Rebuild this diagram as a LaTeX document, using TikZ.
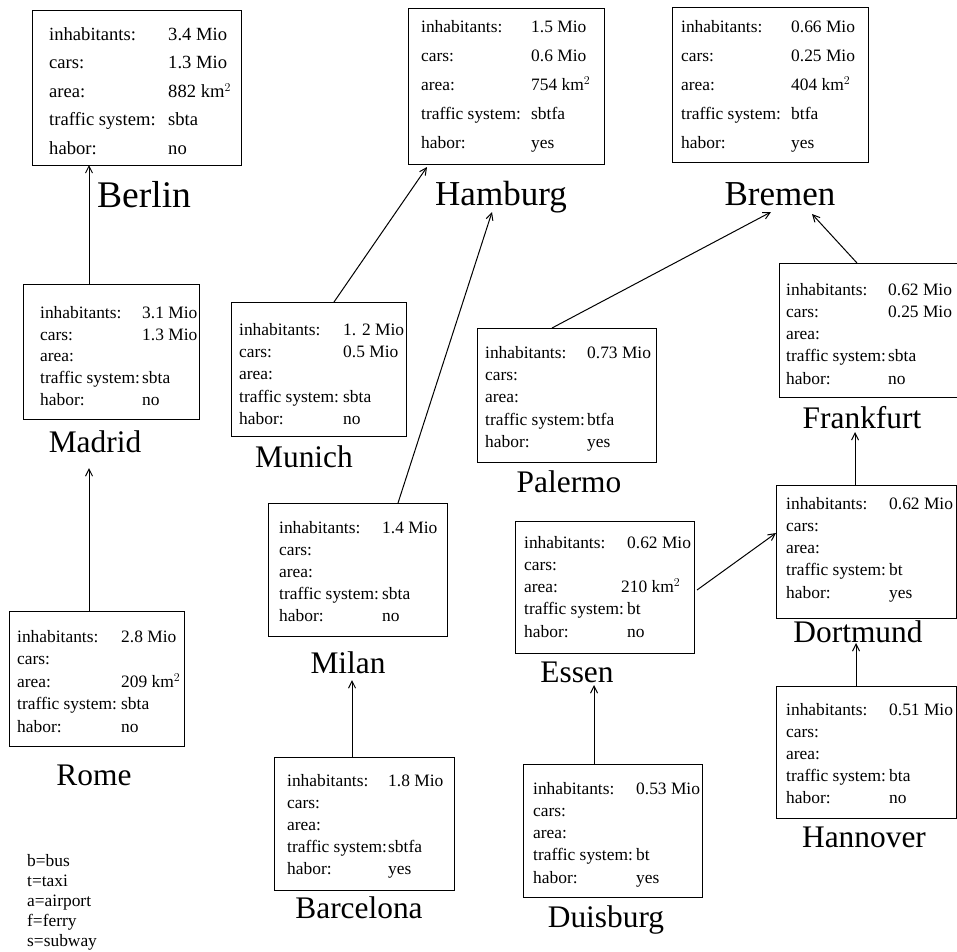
\documentclass[tikz,border=0pt]{standalone}
\usepackage{fontspec}
\setmainfont{Liberation Serif}
\usepackage{tikz}
\usetikzlibrary{arrows.meta}

\tikzset{
  citybox/.style={draw, line width=1pt, anchor=north west, inner sep=0pt, outer sep=0pt},
  rowtext/.style={anchor=mid west, inner sep=0pt, font=\fontsize{17.4}{20}\selectfont},
  cityname/.style={anchor=base, inner sep=0pt, font=\fontsize{31.4}{36}\selectfont},
  bigname/.style={cityname, font=\fontsize{35}{40}\selectfont},
  link/.style={->, line width=1pt},
}

% rows of one box: name, label x, value x, first y, line step, label/value list
\newcommand{\cityrows}[6]{%
  \foreach \lab/\val [count=\i from 0] in {#6} {
    \node[rowtext, yshift=-4pt] (#1-l\i) at (#2,{#4+#5*\i}) {\lab};
    \node[rowtext, yshift=-4pt] (#1-v\i) at (#3,{#4+#5*\i}) {\val};
  }}

\begin{document}
\begin{tikzpicture}[x=1pt,y=-1pt,>={Straight Barb[length=7pt,width=7pt]}]
  \useasboundingbox (0,0) rectangle (957,951);
  \clip (0,0) rectangle (957,951);

  % top row
  \node[citybox, minimum width=209pt, minimum height=155pt] (berlin) at (32,10) {};
  \begin{scope}[rowtext/.append style={font=\fontsize{18.6}{22}\selectfont}]
    \cityrows{berlin}{49}{168}{34}{28.5}{inhabitants:/3.4 Mio, cars:/1.3 Mio,
      area:/882 km$^2$, traffic system:/sbta, habor:/no}
  \end{scope}
  \node[bigname, font=\fontsize{37.6}{42}\selectfont] (berlin-name) at (144,207) {Berlin};

  \node[citybox, minimum width=196pt, minimum height=156pt] (hamburg) at (408,8) {};
  \cityrows{hamburg}{421}{531}{26}{29}{inhabitants:/1.5 Mio, cars:/0.6 Mio,
    area:/754 km$^2$, traffic system:/sbtfa, habor:/yes}
  \node[bigname] (hamburg-name) at (501,205) {Hamburg};

  \node[citybox, minimum width=196pt, minimum height=155pt] (bremen) at (672,7) {};
  \cityrows{bremen}{681}{791}{26}{29}{inhabitants:/0.66 Mio, cars:/0.25 Mio,
    area:/404 km$^2$, traffic system:/btfa, habor:/yes}
  \node[bigname] (bremen-name) at (780,205) {Bremen};

  % middle
  \node[citybox, minimum width=176pt, minimum height=135pt] (madrid) at (23,284) {};
  \cityrows{madrid}{40}{142}{312}{21.8}{inhabitants:/3.1 Mio, cars:/1.3 Mio,
    area:/{}, traffic system:/sbta, habor:/no}
  \node[cityname] (madrid-name) at (95,452) {Madrid};

  \node[citybox, minimum width=175pt, minimum height=134pt] (munich) at (231,302) {};
  \cityrows{munich}{239}{343}{329}{22.3}{inhabitants:/1. 2 Mio, cars:/0.5 Mio,
    area:/{}, traffic system:/sbta, habor:/no}
  \node[cityname] (munich-name) at (304,467) {Munich};

  \node[citybox, minimum width=179pt, minimum height=134pt] (palermo) at (477,328) {};
  \cityrows{palermo}{485}{587}{352}{22.3}{inhabitants:/0.73 Mio, cars:/{},
    area:/{}, traffic system:/btfa, habor:/yes}
  \node[cityname] (palermo-name) at (569,492) {Palermo};

  \node[citybox, minimum width=180pt, minimum height=134pt] (frankfurt) at (779,263) {};
  \cityrows{frankfurt}{786}{888}{289}{22.2}{inhabitants:/0.62 Mio, cars:/0.25 Mio,
    area:/{}, traffic system:/sbta, habor:/no}
  \node[cityname] (frankfurt-name) at (862,428) {Frankfurt};

  \node[citybox, minimum width=179pt, minimum height=133pt] (milan) at (268,503) {};
  \cityrows{milan}{279}{382}{527}{22}{inhabitants:/1.4 Mio, cars:/{},
    area:/{}, traffic system:/sbta, habor:/no}
  \node[cityname] (milan-name) at (348,673) {Milan};

  \node[citybox, minimum width=179pt, minimum height=132pt] (essen) at (515,521) {};
  \cityrows{essen}{524}{627}{542}{22.2}{inhabitants:/0.62 Mio, cars:/{},
    area:/\kern-6pt 210 km$^2$, traffic system:/bt, habor:/no}
  \node[cityname] (essen-name) at (577,682) {Essen};

  \node[citybox, minimum width=180pt, minimum height=133pt] (dortmund) at (776,485) {};
  \cityrows{dortmund}{786}{889}{503}{22.2}{inhabitants:/0.62 Mio, cars:/{},
    area:/{}, traffic system:/bt, habor:/yes}
  \node[cityname] (dortmund-name) at (858,642) {Dortmund};

  % bottom row
  \node[citybox, minimum width=175pt, minimum height=135pt] (rome) at (9,611) {};
  \cityrows{rome}{17}{121}{636}{22.5}{inhabitants:/2.8 Mio, cars:/{},
    area:/209 km$^2$, traffic system:/sbta, habor:/no}
  \node[cityname] (rome-name) at (94,785) {Rome};

  \node[citybox, minimum width=180pt, minimum height=133pt] (barcelona) at (274,757) {};
  \cityrows{barcelona}{287}{388}{780}{22}{inhabitants:/1.8 Mio, cars:/{},
    area:/{}, traffic system:/sbtfa, habor:/yes}
  \node[cityname] (barcelona-name) at (359,918) {Barcelona};

  \node[citybox, minimum width=179pt, minimum height=133pt] (duisburg) at (523,764) {};
  \cityrows{duisburg}{533}{636}{788}{22.2}{inhabitants:/0.53 Mio, cars:/{},
    area:/{}, traffic system:/bt, habor:/yes}
  \node[cityname] (duisburg-name) at (606,927) {Duisburg};

  \node[citybox, minimum width=180pt, minimum height=132pt] (hannover) at (776,686) {};
  \cityrows{hannover}{786}{889}{709}{22}{inhabitants:/0.51 Mio, cars:/{},
    area:/{}, traffic system:/bta, habor:/no}
  \node[cityname] (hannover-name) at (864,847) {Hannover};

  % legend
  \foreach \t [count=\k] in {b=bus, t=taxi, a=airport, f=ferry, s=subway}
    \node[rowtext, anchor=base west] (key\k) at (27,{866+20.2*(\k-1)}) {\t};

  % connections
  \draw[link] ([xshift=66pt]madrid.north west) -- ([xshift=57pt]berlin.south west);
  \draw[link] ([xshift=80pt]rome.north west) -- ([xshift=-6pt,yshift=-16pt]madrid-name.base);
  \draw[link] ([xshift=103pt]munich.north west) -- ([xshift=19pt,yshift=-3pt]hamburg.south west);
  \draw[link] ([xshift=130pt]milan.north west) -- ([xshift=-9pt,yshift=-7pt]hamburg-name.base);
  \draw[link] ([xshift=75pt]palermo.north west) -- ([xshift=-9pt,yshift=-7pt]bremen-name.base);
  \draw[link] ([xshift=78pt]frankfurt.north west) -- ([xshift=32pt,yshift=-9pt]bremen-name.base);
  \draw[link] ([xshift=79pt]dortmund.north west) -- ([xshift=-7pt,yshift=-4pt]frankfurt-name.base);
  \draw[link] ([xshift=3pt,yshift=-69pt]essen.north east) -- ([yshift=-48pt]dortmund.north west);
  \draw[link] ([xshift=80pt]hannover.north west) -- ([xshift=-2pt,yshift=-1pt]dortmund-name.base);
  \draw[link] ([xshift=71pt]duisburg.north west) -- ([xshift=17pt,yshift=-3pt]essen-name.base);
  \draw[link] ([xshift=78pt]barcelona.north west) -- ([xshift=4pt,yshift=-7pt]milan-name.base);
\end{tikzpicture}
\end{document}
